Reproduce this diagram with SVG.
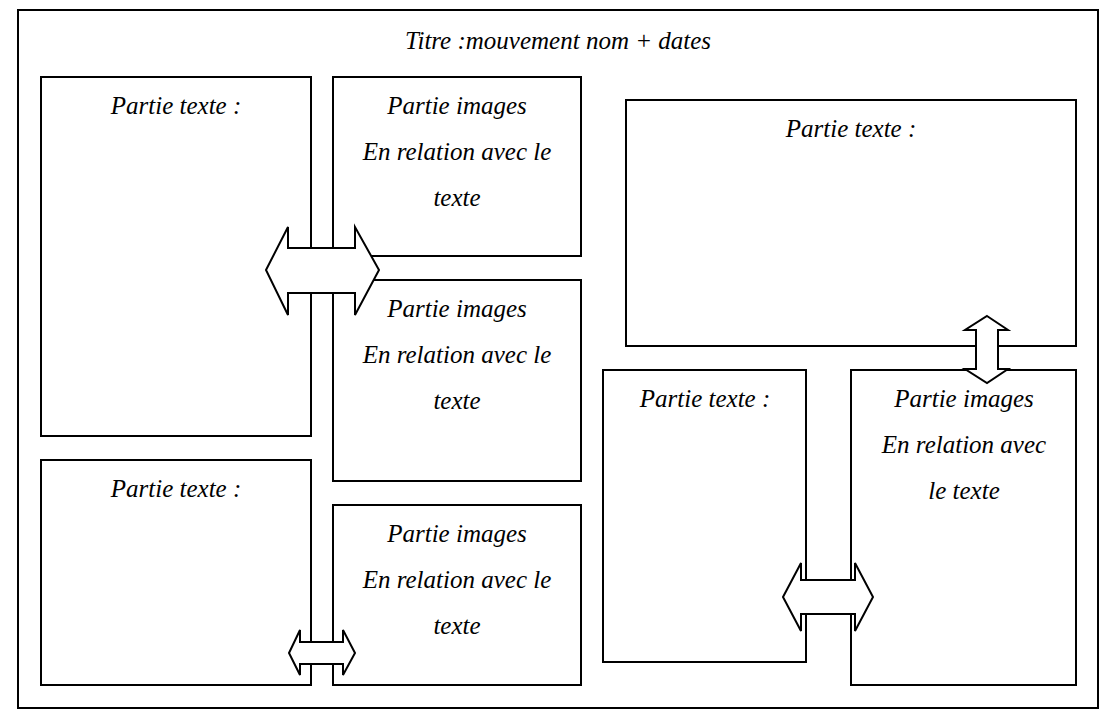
<svg xmlns="http://www.w3.org/2000/svg" width="1117" height="726" viewBox="0 0 1117 726">
<style>
.b{fill:#fff;stroke:#000;stroke-width:2}
.a{fill:#fff;stroke:#000;stroke-width:2;stroke-linejoin:miter}
text{font-family:"Liberation Serif",serif;font-style:italic;font-size:25px;text-anchor:middle;fill:#000}
</style>
<rect width="1117" height="726" fill="#fff"/>
<rect x="18" y="10" width="1080" height="698" class="b"/>
<text id="title" x="558" y="49">Titre :mouvement nom + dates</text>
<g id="boxA"><rect x="41" y="77" width="270" height="359" class="b"/><text x="176" y="114">Partie texte :</text></g>
<g id="boxB"><rect x="333" y="77" width="248" height="179" class="b"/><text x="457" y="114">Partie images</text><text x="457" y="160">En relation avec le</text><text x="457" y="206">texte</text></g>
<g id="boxC"><rect x="333" y="280" width="248" height="201" class="b"/><text x="457" y="317">Partie images</text><text x="457" y="363">En relation avec le</text><text x="457" y="409">texte</text></g>
<g id="boxD"><rect x="41" y="460" width="270" height="225" class="b"/><text x="176" y="497">Partie texte :</text></g>
<g id="boxE"><rect x="333" y="505" width="248" height="180" class="b"/><text x="457" y="542">Partie images</text><text x="457" y="588">En relation avec le</text><text x="457" y="634">texte</text></g>
<g id="boxF"><rect x="626" y="100" width="450" height="246" class="b"/><text x="851" y="137">Partie texte :</text></g>
<g id="boxG"><rect x="603" y="370" width="203" height="292" class="b"/><text x="705" y="407">Partie texte :</text></g>
<g id="boxH"><rect x="851" y="370" width="225" height="315" class="b"/><text x="964" y="407">Partie images</text><text x="964" y="453">En relation avec</text><text x="964" y="499">le texte</text></g>
<g id="connectors">
<polygon class="a" points="266,270 288,227 288,248 355,248 355,227 379,270 355,315 355,293 288,293 288,315"/>
<polygon class="a" points="289,653 300,630 300,642 343,642 343,630 355,653 343,675 343,664 300,664 300,675"/>
<polygon class="a" points="987,316 1008,330 998,330 998,369 1008,369 987,383 965,369 976,369 976,330 965,330"/>
<polygon class="a" points="783,597 801,563 801,580 855,580 855,563 873,597 855,631 855,614 801,614 801,631"/>
</g>
</svg>
